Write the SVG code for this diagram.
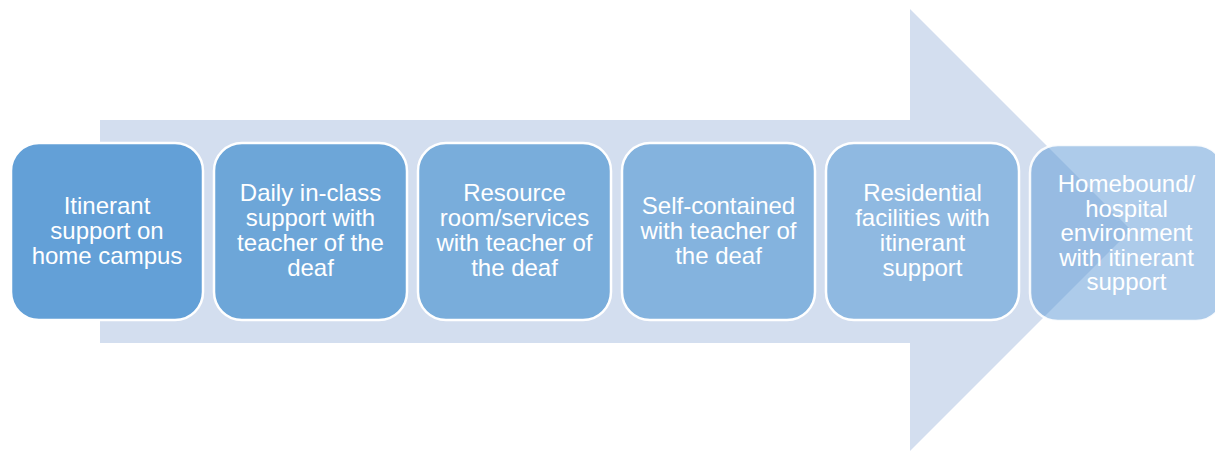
<svg xmlns="http://www.w3.org/2000/svg" width="1215" height="451" viewBox="0 0 1215 451">
<style>
.box{stroke:#ffffff;stroke-width:2.5}
.t{font-family:"Liberation Sans",Arial,sans-serif;font-size:24px;fill:#ffffff;text-anchor:middle}
</style>
<rect width="1215" height="451" fill="#ffffff"/>
<g id="arrow">
<polygon points="100,120 910,120 910,9 1131,230 910,451 910,343 100,343" fill="#d3deef"/>
</g>
<g id="connectors"></g>
<g id="n1">
<rect class="box" x="11" y="143" width="192" height="177" rx="28" fill="#63a0d7"/>
<text class="t" x="107" y="214">Itinerant</text>
<text class="t" x="107" y="239">support on</text>
<text class="t" x="107" y="264">home campus</text>
</g>
<g id="n2">
<rect class="box" x="214" y="143" width="193" height="177" rx="28" fill="#6da6d8"/>
<text class="t" x="310.5" y="201">Daily in-class</text>
<text class="t" x="310.5" y="226">support with</text>
<text class="t" x="310.5" y="251">teacher of the</text>
<text class="t" x="310.5" y="276">deaf</text>
</g>
<g id="n3">
<rect class="box" x="418" y="143" width="193" height="177" rx="28" fill="#79addb"/>
<text class="t" x="514.5" y="201">Resource</text>
<text class="t" x="514.5" y="226">room/services</text>
<text class="t" x="514.5" y="251">with teacher of</text>
<text class="t" x="514.5" y="276">the deaf</text>
</g>
<g id="n4">
<rect class="box" x="622" y="143" width="193" height="177" rx="28" fill="#84b3de"/>
<text class="t" x="718.5" y="214">Self-contained</text>
<text class="t" x="718.5" y="239">with teacher of</text>
<text class="t" x="718.5" y="264">the deaf</text>
</g>
<g id="n5">
<rect class="box" x="826" y="143" width="193" height="177" rx="28" fill="#8fb9e1"/>
<text class="t" x="922.5" y="201">Residential</text>
<text class="t" x="922.5" y="226">facilities with</text>
<text class="t" x="922.5" y="251">itinerant</text>
<text class="t" x="922.5" y="276">support</text>
</g>
<g id="n6">
<rect class="box" x="1030" y="145" width="194" height="176" rx="28" fill="#5b97d5" fill-opacity="0.5" stroke-opacity="0.9"/>
<text class="t" x="1126.5" y="192">Homebound/</text>
<text class="t" x="1126.5" y="216.5">hospital</text>
<text class="t" x="1126.5" y="241">environment</text>
<text class="t" x="1126.5" y="265.5">with itinerant</text>
<text class="t" x="1126.5" y="290">support</text>
</g>
</svg>
